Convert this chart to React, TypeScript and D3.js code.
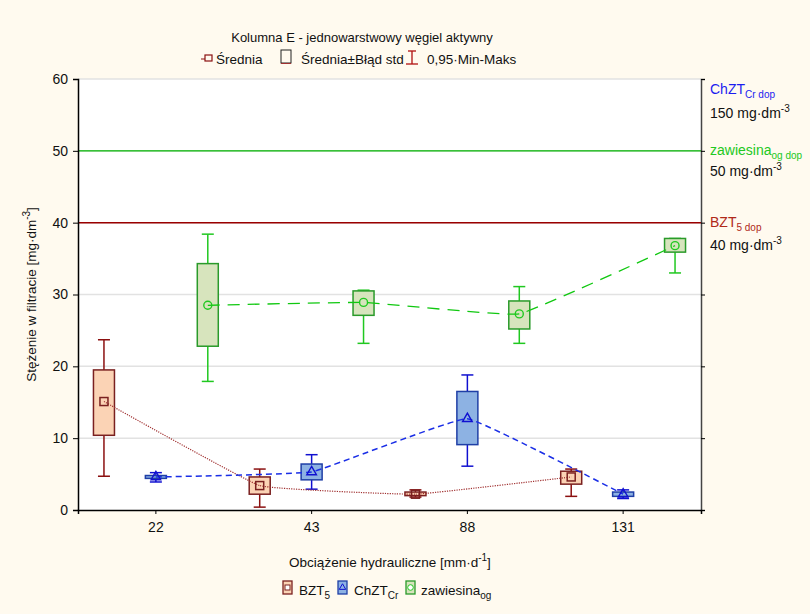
import React, { useRef, useEffect } from 'react';
import * as d3 from 'd3';

// hydraulic load categories [mm/d]
const categories = ['22', '43', '88', '131'];
const seriesNames = ['BZT5', 'ChZT', 'zaw'];

// BZT5
const bztMean = [15.1, 3.4, 2.2, 4.6];
const bztLo = [10.4, 2.2, 2.0, 3.6];
const bztHi = [19.5, 4.6, 2.5, 5.4];
const bztMin = [4.7, 0.4, 1.8, 1.9];
const bztMax = [23.7, 5.7, 2.8, 5.7];

// ChZT Cr
const chztMean = [4.6, 5.3, 12.7, 2.2];
const chztLo = [4.4, 4.2, 9.1, 1.9];
const chztHi = [4.8, 6.4, 16.5, 2.5];
const chztMin = [3.9, 2.9, 6.1, 1.6];
const chztMax = [5.2, 7.7, 18.8, 2.8];

// zawiesina og
const zawMean = [28.5, 28.9, 27.3, 36.8];
const zawLo = [22.8, 27.1, 25.2, 35.9];
const zawHi = [34.3, 30.5, 29.1, 37.8];
const zawMin = [17.9, 23.2, 23.2, 33.0];
const zawMax = [38.4, 30.6, 31.1, 37.8];

const yTicks = [0, 10, 20, 30, 40, 50, 60];
const limitValues = [50, 40];

const FONT = '"Liberation Sans", Arial, sans-serif';

const App = () => {
  const svgRef = useRef<SVGSVGElement>(null);
  const width = 810;
  const height = 614;

  useEffect(() => {
    const svg = d3.select(svgRef.current);
    svg.selectAll('*').remove();

    const left = 78, right = 701, top = 79, bottom = 510;

    const x = d3.scaleBand().domain(categories).range([left, right]).padding(0);
    const sub = d3.scaleBand().domain(seriesNames).range([-x.bandwidth() / 2, x.bandwidth() / 2]);
    const y = d3.scaleLinear().domain([0, 60]).range([bottom, top]);

    svg.append('rect').attr('width', width).attr('height', height).attr('fill', '#fffaef');
    svg.append('rect').attr('x', left).attr('y', top).attr('width', right - left).attr('height', bottom - top).attr('fill', '#ffffff');

    // grid
    svg.selectAll('.grid').data(yTicks.filter(t => t > 0)).enter().append('line')
      .attr('x1', left).attr('x2', right)
      .attr('y1', d => y(d)).attr('y2', d => y(d))
      .attr('stroke', '#e2e2e2').attr('stroke-width', 1.5);

    // limit lines
    svg.append('line').attr('x1', left).attr('x2', right).attr('y1', y(limitValues[0])).attr('y2', y(limitValues[0]))
      .attr('stroke', '#00b400').attr('stroke-width', 1.2);
    svg.append('line').attr('x1', left).attr('x2', right).attr('y1', y(limitValues[1])).attr('y2', y(limitValues[1]))
      .attr('stroke', '#9a0000').attr('stroke-width', 1.5);

    const series = [
      { key: 'BZT5', mean: bztMean, lo: bztLo, hi: bztHi, min: bztMin, max: bztMax,
        fill: '#fbd3b5', stroke: '#7a2020', whisker: '#8b1010', line: '#a03030', dash: '1.2,1.2', lw: 1.2, marker: 'square' },
      { key: 'ChZT', mean: chztMean, lo: chztLo, hi: chztHi, min: chztMin, max: chztMax,
        fill: '#8db2e3', stroke: '#1f3fa6', whisker: '#1010d0', line: '#1a2ee6', dash: '6,4', lw: 1.5, marker: 'triangle' },
      { key: 'zaw', mean: zawMean, lo: zawLo, hi: zawHi, min: zawMin, max: zawMax,
        fill: '#d7e4bd', stroke: '#2a9a2a', whisker: '#20c820', line: '#10c810', dash: '12,8', lw: 1.3, marker: 'circle' },
    ];

    const cx = (s: string, c: string) => (x(c) as number) + x.bandwidth() / 2 + (sub(s) as number) + sub.bandwidth() / 2;
    const bw = 21, cap = 6;

    series.forEach(s => {
      const g = svg.append('g');
      categories.forEach((c, i) => {
        const px = cx(s.key, c);
        g.append('line').attr('x1', px).attr('x2', px).attr('y1', y(s.max[i])).attr('y2', y(s.min[i]))
          .attr('stroke', s.whisker).attr('stroke-width', 1.5);
        [s.max[i], s.min[i]].forEach(v => {
          g.append('line').attr('x1', px - cap).attr('x2', px + cap).attr('y1', y(v)).attr('y2', y(v))
            .attr('stroke', s.whisker).attr('stroke-width', 1.5);
        });
        g.append('rect').attr('x', px - bw / 2).attr('y', y(s.hi[i]))
          .attr('width', bw).attr('height', Math.max(1, y(s.lo[i]) - y(s.hi[i])))
          .attr('fill', s.fill).attr('stroke', s.stroke).attr('stroke-width', 1.5);
      });
    });

    // mean lines and markers
    series.forEach(s => {
      const pts: [number, number][] = categories.map((c, i) => [cx(s.key, c), y(s.mean[i])]);
      const line = d3.line().curve(d3.curveCardinal.tension(0.75));
      svg.append('path').attr('d', line(pts)).attr('fill', 'none')
        .attr('stroke', s.line).attr('stroke-width', s.lw).attr('stroke-dasharray', s.dash);
      pts.forEach(p => {
        const m = svg.append('g').attr('transform', `translate(${p[0]},${p[1]})`);
        if (s.marker === 'square') {
          m.append('rect').attr('x', -4).attr('y', -4).attr('width', 8).attr('height', 8)
            .attr('fill', 'none').attr('stroke', s.stroke).attr('stroke-width', 1.5);
        } else if (s.marker === 'triangle') {
          m.append('path').attr('d', d3.symbol(d3.symbolTriangle, 40)()).attr('fill', 'none')
            .attr('stroke', s.whisker).attr('stroke-width', 1.4);
        } else {
          m.append('circle').attr('r', 4).attr('fill', 'none').attr('stroke', s.whisker).attr('stroke-width', 1.4);
        }
      });
    });

    // axes
    const yAxis = d3.axisLeft(y).tickValues(yTicks).tickSize(5).tickPadding(5);
    const ya = svg.append('g').attr('transform', `translate(${left},0)`).call(yAxis);
    ya.select('.domain').attr('stroke', '#000').attr('stroke-width', 1.5);
    ya.selectAll('text').attr('font-family', FONT).attr('font-size', 14).attr('fill', '#111');

    const yAxisR = d3.axisRight(y).tickValues(yTicks).tickSize(4).tickFormat(() => '');
    const yr = svg.append('g').attr('transform', `translate(${right},0)`).call(yAxisR);
    yr.select('.domain').attr('stroke', '#444').attr('stroke-width', 1.5);

    const xAxis = d3.axisBottom(x).tickSize(4).tickPadding(8);
    const xa = svg.append('g').attr('transform', `translate(0,${bottom})`).call(xAxis);
    xa.select('.domain').attr('stroke', '#000').attr('stroke-width', 1.5);
    xa.selectAll('text').attr('font-family', FONT).attr('font-size', 14).attr('fill', '#111');

    const txt = (tx: number, ty: number, size: number, fill = '#111', anchor = 'start') =>
      svg.append('text').attr('x', tx).attr('y', ty).attr('font-family', FONT).attr('font-size', size)
        .attr('fill', fill).attr('text-anchor', anchor);

    // title and top legend
    txt(362, 42, 13, '#111', 'middle').text('Kolumna E - jednowarstwowy węgiel aktywny');
    svg.append('line').attr('x1', 201).attr('x2', 205).attr('y1', 59).attr('y2', 59).attr('stroke', '#8b1010');
    svg.append('rect').attr('x', 205).attr('y', 55).attr('width', 7).attr('height', 6).attr('fill', 'none').attr('stroke', '#8b1010').attr('stroke-width', 1.2);
    txt(216, 64, 13.5).text('Średnia');
    svg.append('rect').attr('x', 281).attr('y', 50).attr('width', 10).attr('height', 13).attr('fill', 'none').attr('stroke', '#222').attr('stroke-width', 1);
    svg.append('line').attr('x1', 281).attr('x2', 291).attr('y1', 63.5).attr('y2', 63.5).attr('stroke', '#a03030');
    txt(301, 64, 13.5).text('Średnia±Błąd std');
    svg.append('line').attr('x1', 412).attr('x2', 412).attr('y1', 51).attr('y2', 64).attr('stroke', '#b01010').attr('stroke-width', 1.3);
    svg.append('line').attr('x1', 408).attr('x2', 416).attr('y1', 51).attr('y2', 51).attr('stroke', '#b01010').attr('stroke-width', 1.3);
    svg.append('line').attr('x1', 406).attr('x2', 418).attr('y1', 64).attr('y2', 64).attr('stroke', '#b01010').attr('stroke-width', 1.3);
    txt(427, 64, 13.5).text('0,95·Min-Maks');

    // right-side limit labels
    const lab = (ty: number, fill: string, main: string, subTxt: string) => {
      const t = txt(710, ty, 14, fill);
      t.append('tspan').text(main);
      t.append('tspan').attr('font-size', 10).attr('dy', 4).text(subTxt);
    };
    const unit = (ty: number, val: string) => {
      const t = txt(710, ty, 14, '#111');
      t.append('tspan').text(`${val} mg·dm`);
      t.append('tspan').attr('font-size', 10).attr('dy', -6).text('-3');
    };
    lab(94, '#1c1cf0', 'ChZT', 'Cr dop');
    unit(118, '150');
    lab(155, '#22c822', 'zawiesina', 'og dop');
    unit(176, '50');
    lab(227, '#b02818', 'BZT', '5 dop');
    unit(250, '40');

    // axis titles
    const yt = svg.append('text').attr('transform', `translate(36,${(top + bottom) / 2}) rotate(-90)`)
      .attr('text-anchor', 'middle').attr('font-family', FONT).attr('font-size', 13.5).attr('fill', '#111');
    yt.append('tspan').text('Stężenie w filtracie [mg·dm');
    yt.append('tspan').attr('font-size', 10).attr('dy', -6).text('-3');
    yt.append('tspan').attr('dy', 6).text(']');

    const xt = txt(390, 567, 13.5, '#111', 'middle');
    xt.append('tspan').text('Obciążenie hydrauliczne [mm·d');
    xt.append('tspan').attr('font-size', 10).attr('dy', -6).text('-1');
    xt.append('tspan').attr('dy', 6).text(']');

    // bottom legend
    const legItems = [
      { s: series[0], lx: 283, main: 'BZT', subTxt: '5', tx: 299 },
      { s: series[1], lx: 338, main: 'ChZT', subTxt: 'Cr', tx: 354 },
      { s: series[2], lx: 406, main: 'zawiesina', subTxt: 'og', tx: 421 },
    ];
    legItems.forEach(it => {
      svg.append('rect').attr('x', it.lx).attr('y', 581).attr('width', 9).attr('height', 13)
        .attr('fill', it.s.fill).attr('stroke', it.s.stroke).attr('stroke-width', 1.3);
      const m = svg.append('g').attr('transform', `translate(${it.lx + 4.5},587.5)`);
      if (it.s.marker === 'square') {
        m.append('rect').attr('x', -2.5).attr('y', -2.5).attr('width', 5).attr('height', 5).attr('fill', '#fff').attr('stroke', it.s.stroke);
      } else if (it.s.marker === 'triangle') {
        m.append('path').attr('d', d3.symbol(d3.symbolTriangle, 18)()).attr('fill', 'none').attr('stroke', it.s.whisker);
      } else {
        m.append('circle').attr('r', 2.8).attr('fill', '#fff').attr('stroke', it.s.whisker);
      }
      const t = txt(it.tx, 595, 13.5);
      t.append('tspan').text(it.main);
      t.append('tspan').attr('font-size', 10).attr('dy', 4).text(it.subTxt);
    });
  }, []);

  return (
    <svg ref={svgRef} width={width} height={height} style={{ position: 'absolute', left: 0, top: 0 }}>
    </svg>
  );
};

export default App;
